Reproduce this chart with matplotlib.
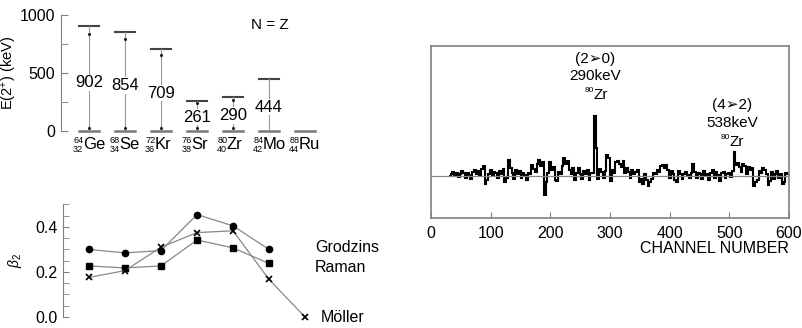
import matplotlib
matplotlib.use("Agg")
import matplotlib.pyplot as plt
import numpy as np
from matplotlib.ticker import MultipleLocator
import matplotlib.transforms as mtransforms

plt.rcParams["font.family"] = ["Liberation Sans", "DejaVu Sans"]
plt.rcParams["mathtext.fontset"] = "custom"
plt.rcParams["mathtext.rm"] = "Liberation Sans"
plt.rcParams["mathtext.it"] = "Liberation Sans:italic"
plt.rcParams["mathtext.bf"] = "Liberation Sans:bold"

# --- data -------------------------------------------------------------
elements = ["Ge", "Se", "Kr", "Sr", "Zr", "Mo", "Ru"]
mass_numbers = [64, 68, 72, 76, 80, 84, 88]
proton_numbers = [32, 34, 36, 38, 40, 42, 44]
e2_kev = [902, 854, 709, 261, 290, 444, None]

beta_grodzins = [0.30, 0.285, 0.295, 0.455, 0.405, 0.30]
beta_raman = [0.227, 0.218, 0.227, 0.342, 0.307, 0.238]
beta_moller = [0.176, 0.206, 0.31, 0.375, 0.383, 0.167, 0.0]

channel_start = 30
bin_width = 3
spectrum = [0, 2, 4, 1, 3, -1, 2, 5, 3, -2,
            3, 1, -3, 4, 6, 2, 5, 1, 7, 10,
            -8, -4, 2, 6, 1, 4, 3, -2, 5, 2,
            7, -6, -2, 16, 8, 3, -3, 6, 2, 5,
            -2, 3, 1, -4, 3, 2, 11, 7, 4, 12,
            16, 10, 14, -19, -6, 3, 14, 6, 9, -4,
            -5, 4, 2, 10, 18, 12, 15, 6, 2, 8,
            -4, 3, 8, 2, -3, 5, 2, 6, -4, 3,
            3, 60, 28, -3, 7, 4, -2, 5, 21, 18,
            -5, 6, 3, 14, 15, 12, 9, 15, 3, 8,
            4, -2, 6, 2, 4, 6, -6, -3, -8, 2,
            -4, -10, -6, -3, 3, 2, 6, 4, 10, 11,
            8, 11, 6, -2, 5, 2, -4, -6, 5, 2,
            -3, 2, 4, 1, -2, 3, 12, 4, -2, 3,
            2, -3, 5, 1, 2, -4, 3, 6, -2, 4,
            1, -5, 3, 4, -2, 2, 3, -1, 5, 24,
            11, 13, 9, 4, 12, 10, 2, 9, 6, 8,
            -10, -6, -4, 5, 3, 8, 6, 2, -9, -5,
            4, -3, 2, 5, -2, 2, -8, -6, 3, 2]

fig = plt.figure(figsize=(8.02, 3.28), dpi=100)
W, H = 802, 328
spine_col = "#808080"
line_col = "#888888"


def axes_px(left, top, right, bottom):
    return fig.add_axes([left / W, 1 - bottom / H, (right - left) / W, (bottom - top) / H])


def nuclide(ax, x, y, a, z, sym, size, trans):
    # small stacked mass/charge numbers left of the symbol
    ax.annotate(sym, (x, y), xycoords=trans, ha="left", va="center", fontsize=size)
    ax.annotate(str(a), (x, y), xycoords=trans, xytext=(0.3, 3.5), textcoords="offset points",
                ha="right", va="center", fontsize=size * 0.55)
    if z is not None:
        ax.annotate(str(z), (x, y), xycoords=trans, xytext=(0.3, -3.5), textcoords="offset points",
                    ha="right", va="center", fontsize=size * 0.55)


# --- top left: E(2+) level scheme --------------------------------------
ax1 = axes_px(61, 15, 330, 131)
pos = np.arange(1, len(elements) + 1)
ax1.set_xlim(1 - 28 / 36, 1 - 28 / 36 + 269 / 36)
ax1.set_ylim(0, 1000)
for x, e in zip(pos, e2_kev):
    ax1.plot([x - 0.28, x + 0.28], [0, 0], color="#777777", lw=1.8, clip_on=False)
    if e is None:
        continue
    ax1.plot([x - 0.28, x + 0.28], [e, e], color="#444444", lw=1.5)
    ax1.plot([x, x], [0, e], color="#999999", lw=0.8)
    if e != 444:
        ax1.plot([x, x], [e * 0.93, 30], ls="none", marker=".", ms=2.5, color="#222222")
    ax1.text(x, e * 0.46, str(e), ha="center", va="center", fontsize=12,
             bbox=dict(facecolor="white", edgecolor="none", pad=0.5))
trans = mtransforms.blended_transform_factory(ax1.transData, ax1.transAxes)
for x, a, z, sym in zip(pos, mass_numbers, proton_numbers, elements):
    nuclide(ax1, x - 0.17, -0.12, a, z, sym, 12, trans)
ax1.text(0.777, 0.91, "N = Z", transform=ax1.transAxes, ha="center", va="center", fontsize=11)
ax1.set_yticks([0, 500, 1000])
ax1.yaxis.set_minor_locator(MultipleLocator(250))
ax1.set_xticks([])
for s in ["top", "right", "bottom"]:
    ax1.spines[s].set_visible(False)
ax1.spines["left"].set_color(spine_col)
ax1.tick_params(axis="y", which="both", direction="in", length=5, color=spine_col,
                labelsize=11.5, pad=4)
ax1.set_ylabel(r"E(2$^{+}$) (keV)", fontsize=10.5, labelpad=1)
ax1.patch.set_alpha(0)

# --- bottom left: beta2 -------------------------------------------------
ax2 = axes_px(63, 204, 330, 317)
ax2.set_xlim(1 - 26 / 36, 1 - 26 / 36 + 267 / 36)
ax2.set_ylim(0, 0.502)
ax2.plot(pos[:6], beta_grodzins, color=line_col, lw=0.9, marker="o", ms=4.5,
         mfc="black", mec="black")
ax2.plot(pos[:6], beta_raman, color=line_col, lw=0.9, marker="s", ms=4,
         mfc="black", mec="black")
ax2.plot(pos, beta_moller, color=line_col, lw=0.9, marker="x", ms=5,
         mec="black", mew=1.2, clip_on=False)
ax2.text(7.28, 0.307, "Grodzins", ha="left", va="center", fontsize=11.5)
ax2.text(7.28, 0.222, "Raman", ha="left", va="center", fontsize=11.5)
ax2.text(7.45, 0.0, "Möller", ha="left", va="center", fontsize=11.5)
ax2.set_yticks([0.0, 0.2, 0.4])
ax2.set_yticklabels(["0.0", "0.2", "0.4"])
ax2.yaxis.set_minor_locator(MultipleLocator(0.05))
ax2.set_xticks([])
for s in ["top", "right", "bottom"]:
    ax2.spines[s].set_visible(False)
ax2.spines["left"].set_color(spine_col)
ax2.tick_params(axis="y", which="both", direction="in", length=4, color=spine_col,
                labelsize=11.5, pad=4)
ax2.set_ylabel(r"$\beta_2$", fontsize=10, labelpad=8)
ax2.patch.set_alpha(0)

# --- right: gamma spectrum ----------------------------------------------
ax3 = axes_px(431, 46, 789, 218)
edges = channel_start + bin_width * np.arange(len(spectrum) + 1)
ax3.axhline(0, color="#888888", lw=0.9)
ax3.stairs(spectrum, edges, baseline=None, color="black", lw=1.5)
ax3.set_xlim(0, 600)
ax3.set_ylim(-42, 130)
ax3.set_xticks(np.arange(0, 601, 100))
ax3.set_yticks([])
ax3.tick_params(axis="x", direction="in", length=4, color=spine_col, labelsize=11.5, pad=6)
for s in ax3.spines.values():
    s.set_color(spine_col)
    s.set_linewidth(1.2)
ax3.text(1.0, -0.175, "CHANNEL NUMBER", transform=ax3.transAxes, ha="right",
         va="center", fontsize=11.5)
ax3.text(275, 117, "(2➢0)", ha="center", va="center", fontsize=11)
ax3.text(275, 100, "290keV", ha="center", va="center", fontsize=11)
nuclide(ax3, 272, 81, 80, None, "Zr", 11, ax3.transData)
ax3.text(504, 71, "(4➢2)", ha="center", va="center", fontsize=11)
ax3.text(504, 53, "538keV", ha="center", va="center", fontsize=11)
nuclide(ax3, 501, 34, 80, None, "Zr", 11, ax3.transData)

fig.savefig("out.png", dpi=100)
